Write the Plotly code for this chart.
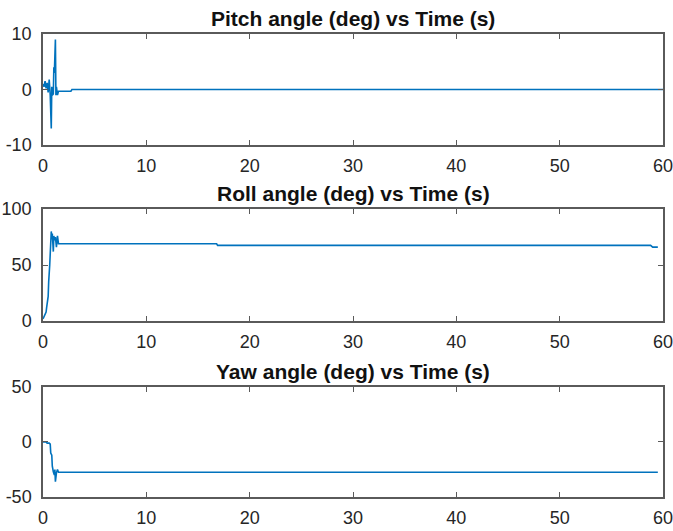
import plotly.graph_objects as go

# Pitch angle data
pitch_t = [0, 0.1, 0.2, 0.3, 0.4, 0.5, 0.6, 0.7, 0.8, 0.85, 0.9, 1.0, 1.05, 1.1, 1.15, 1.2, 1.25, 1.3, 1.4, 1.5, 2.7, 2.8, 60]
pitch_v = [1, 0.5, 1.5, 0.2, 1.2, -0.5, 1.8, -1, -7, 0.5, -1, -0.8, 4, 3, 6, 9, -1, 0.5, -1, -0.3, -0.3, 0, 0]

# Roll angle data
roll_t = [0, 0.1, 0.2, 0.3, 0.35, 0.4, 0.45, 0.5, 0.55, 0.6, 0.65, 0.7, 0.75, 0.8, 0.85, 0.9, 0.95, 1.0, 1.05, 1.1, 1.2, 1.3, 1.4, 1.5, 16.8, 16.9, 58.8, 59.0, 59.5]
roll_v = [2, 4, 5, 8, 12, 15, 20, 22, 35, 40, 50, 60, 70, 80, 73, 78, 70, 62, 76, 72, 75, 66, 76, 69, 69, 67.5, 67.5, 66, 66]

# Yaw angle data
yaw_t = [0, 0.3, 0.4, 0.6, 0.7, 0.75, 0.85, 0.9, 1.0, 1.1, 1.15, 1.2, 1.3, 1.4, 1.5, 59.5]
yaw_v = [0, 0, -1, -1, -2, -10, -12, -22, -27, -30, -25, -36, -28, -25, -27.5, -27.5]

titles = ["Pitch angle (deg) vs Time (s)", "Roll angle (deg) vs Time (s)", "Yaw angle (deg) vs Time (s)"]
x_ticks = [0, 10, 20, 30, 40, 50, 60]
y_ticks = [[-10, 0, 10], [0, 50, 100], [-50, 0, 50]]
y_tick_text = [["-10", "0", "10"], ["0", "50", "100"], ["-50", "0", "50"]]
y_ranges = [[-10, 10], [0, 100], [-50, 50]]

LINE = "#0072BD"
AXC = "#5a5a5a"
TXT = "#262626"
FONT = "Liberation Sans, Arial, sans-serif"

fig = go.Figure()
series = [(pitch_t, pitch_v), (roll_t, roll_v), (yaw_t, yaw_v)]
domains = [[0.760, 1.0], [0.380, 0.622], [0.0, 0.2376]]

for i, (t, v) in enumerate(series):
    n = "" if i == 0 else str(i + 1)
    fig.add_trace(go.Scatter(x=t, y=v, mode="lines", line=dict(color=LINE, width=1.6),
                             xaxis="x" + n, yaxis="y" + n, showlegend=False))
    axis_common = dict(showline=True, linecolor=AXC, linewidth=1.5, mirror="ticks",
                       ticks="inside", ticklen=5, tickcolor=AXC, tickwidth=1,
                       showgrid=False, zeroline=False, automargin=False,
                       ticklabeloverflow="allow",
                       tickfont=dict(family=FONT, size=18, color=TXT))
    fig.update_layout(**{
        "xaxis" + n: dict(domain=[0, 1], range=[0, 60], tickvals=x_ticks,
                          anchor="y" + n, ticklabelstandoff=4, **axis_common),
        "yaxis" + n: dict(domain=domains[i], range=y_ranges[i], tickvals=y_ticks[i],
                          ticktext=y_tick_text[i], ticklabelstandoff=6,
                          anchor="x" + n, **axis_common),
    })
    fig.add_annotation(text="<b>" + titles[i] + "</b>", xref="paper", yref="paper",
                       x=0.5, y=domains[i][1], yanchor="bottom", xanchor="center",
                       yshift=2, showarrow=False,
                       font=dict(family=FONT, size=21, color="#111111"))

fig.update_layout(width=673, height=531, margin=dict(l=43, r=10, t=34, b=34),
                  paper_bgcolor="white", plot_bgcolor="white")

fig.write_html("out.html", config={"displayModeBar": False},
               post_script="document.body.style.margin='0px';")
